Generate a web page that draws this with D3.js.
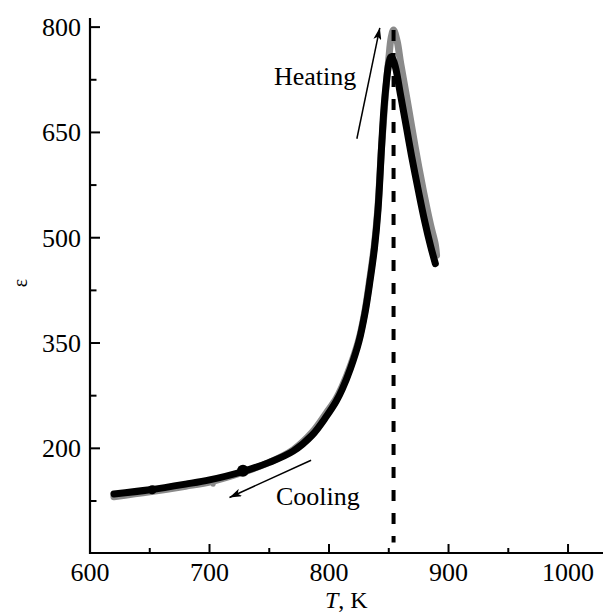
<!DOCTYPE html>
<html>
<head>
<meta charset="utf-8">
<script src="https://cdn.jsdelivr.net/npm/d3@7"></script>
<style>
  body { margin: 0; background: #fff; }
</style>
</head>
<body>
<svg width="605" height="615" font-family="'Liberation Serif', 'DejaVu Serif', serif"></svg>
<script>
// temperature (K) / permittivity readings
var coolingT = [620, 650, 680, 700, 728, 750, 770, 786, 798, 806, 811, 818, 825, 830, 834, 838, 841, 844, 846, 848, 850, 852, 854, 856, 860, 865, 869, 875, 880, 885, 889];
var coolingE = [135, 141, 149, 155, 167, 180, 196, 219, 246, 267, 284, 314, 352, 392, 435, 485, 540, 630, 685, 722, 748, 758, 752, 740, 702, 655, 617, 565, 524, 488, 463];

var heatingT = [620, 650, 680, 700, 728, 750, 770, 786, 798, 806, 811, 818, 825, 830, 834, 838, 841, 844, 847, 850, 852, 854, 857, 860, 865, 869, 875, 880, 885, 889, 890];
var heatingE = [131, 138, 146, 152, 166, 180, 198, 223, 251, 271, 288, 318, 355, 395, 440, 490, 545, 630, 700, 755, 785, 796, 780, 748, 700, 660, 602, 558, 518, 490, 475];

var blobT = [652, 728];
var blobE = [141, 168];

var transitionT = 854;

var xTicks = [600, 650, 700, 750, 800, 850, 900, 950, 1000];
var xLabels = [600, 700, 800, 900, 1000];
var yTicks = [125, 200, 275, 350, 425, 500, 575, 650, 725, 800];
var yLabels = [200, 350, 500, 650, 800];

var svg = d3.select("svg");
var FONT = "'Liberation Serif', 'DejaVu Serif', serif";

var x = d3.scaleLinear().domain([600, 1029]).range([90, 602.7]);
var y = d3.scaleLinear().domain([50.9, 813]).range([553, 18]);

var defs = svg.append("defs");
defs.append("marker")
    .attr("id", "head")
    .attr("viewBox", "0 0 12 8")
    .attr("refX", 12)
    .attr("refY", 4)
    .attr("markerWidth", 12)
    .attr("markerHeight", 8)
    .attr("markerUnits", "userSpaceOnUse")
    .attr("orient", "auto")
    .append("path")
    .attr("d", "M0,0 L12,4 L0,8 L3,4 Z")
    .attr("fill", "#000");

var line = d3.line()
    .x(function(d) { return x(d[0]); })
    .y(function(d) { return y(d[1]); })
    .curve(d3.curveCatmullRom.alpha(0.5));

var heating = heatingT.map(function(t, i) { return [t, heatingE[i]]; });
var cooling = coolingT.map(function(t, i) { return [t, coolingE[i]]; });

svg.append("path")
    .datum(heating)
    .attr("d", line)
    .attr("fill", "none")
    .attr("stroke", "#8a8a8a")
    .attr("stroke-width", 7)
    .attr("stroke-linecap", "round")
    .attr("stroke-linejoin", "round");

svg.append("circle")
    .attr("cx", x(703))
    .attr("cy", y(149))
    .attr("r", 2.5)
    .attr("fill", "#8a8a8a");

svg.append("path")
    .datum(cooling)
    .attr("d", line)
    .attr("fill", "none")
    .attr("stroke", "#000")
    .attr("stroke-width", 7)
    .attr("stroke-linecap", "round")
    .attr("stroke-linejoin", "round");

svg.selectAll("circle.blob")
    .data(blobT)
    .enter()
    .append("circle")
    .attr("class", "blob")
    .attr("cx", function(d) { return x(d); })
    .attr("cy", function(d, i) { return y(blobE[i]); })
    .attr("r", function(d, i) { return i == 0 ? 4.5 : 6; })
    .attr("fill", "#000");

// transition temperature
svg.append("line")
    .attr("x1", x(transitionT))
    .attr("x2", x(transitionT))
    .attr("y1", y(796))
    .attr("y2", y(66))
    .attr("stroke", "#000")
    .attr("stroke-width", 4)
    .attr("stroke-dasharray", "11,12");

// arrows
svg.append("line")
    .attr("x1", x(823.3)).attr("y1", y(641))
    .attr("x2", x(842.5)).attr("y2", y(799))
    .attr("stroke", "#000")
    .attr("stroke-width", 1.5)
    .attr("marker-end", "url(#head)");

svg.append("line")
    .attr("x1", x(785)).attr("y1", y(183))
    .attr("x2", x(716.7)).attr("y2", y(130))
    .attr("stroke", "#000")
    .attr("stroke-width", 1.5)
    .attr("marker-end", "url(#head)");

svg.append("text")
    .attr("x", 274)
    .attr("y", 85)
    .attr("font-family", FONT)
    .attr("font-size", 26)
    .text("Heating");

svg.append("text")
    .attr("x", 276)
    .attr("y", 505)
    .attr("font-family", FONT)
    .attr("font-size", 26)
    .text("Cooling");

// axes
var xAxis = svg.append("g");
xAxis.append("line")
    .attr("x1", 89).attr("x2", 603)
    .attr("y1", 553).attr("y2", 553)
    .attr("stroke", "#000").attr("stroke-width", 2.2);

xAxis.selectAll("line.tick")
    .data(xTicks.slice(1))
    .enter()
    .append("line")
    .attr("class", "tick")
    .attr("x1", function(d) { return x(d); })
    .attr("x2", function(d) { return x(d); })
    .attr("y1", 553)
    .attr("y2", function(d) { return xLabels.indexOf(d) >= 0 ? 544 : 548; })
    .attr("stroke", "#000").attr("stroke-width", 2);

xAxis.selectAll("text")
    .data(xLabels)
    .enter()
    .append("text")
    .attr("x", function(d) { return x(d); })
    .attr("y", 581)
    .attr("text-anchor", "middle")
    .attr("font-family", FONT)
    .attr("font-size", 26)
    .text(function(d) { return d; });

var yAxis = svg.append("g");
yAxis.append("line")
    .attr("x1", 90).attr("x2", 90)
    .attr("y1", 18).attr("y2", 554)
    .attr("stroke", "#000").attr("stroke-width", 2.2);

yAxis.selectAll("line.tick")
    .data(yTicks)
    .enter()
    .append("line")
    .attr("class", "tick")
    .attr("x1", 90)
    .attr("x2", function(d) { return yLabels.indexOf(d) >= 0 ? 100 : 96.5; })
    .attr("y1", function(d) { return y(d); })
    .attr("y2", function(d) { return y(d); })
    .attr("stroke", "#000").attr("stroke-width", 2);

yAxis.selectAll("text")
    .data(yLabels)
    .enter()
    .append("text")
    .attr("x", 81)
    .attr("y", function(d) { return y(d); })
    .attr("dy", "0.34em")
    .attr("text-anchor", "end")
    .attr("font-family", FONT)
    .attr("font-size", 26)
    .text(function(d) { return d; });

var xTitle = svg.append("text")
    .attr("x", 325)
    .attr("y", 608)
    .attr("font-family", FONT)
    .attr("font-size", 24);
xTitle.append("tspan").attr("font-style", "italic").text("T");
xTitle.append("tspan").text(", K");

svg.append("text")
    .attr("transform", "translate(27,283) rotate(-90)")
    .attr("text-anchor", "middle")
    .attr("font-family", FONT)
    .attr("font-size", 20)
    .text("ε");
</script>
</body>
</html>
